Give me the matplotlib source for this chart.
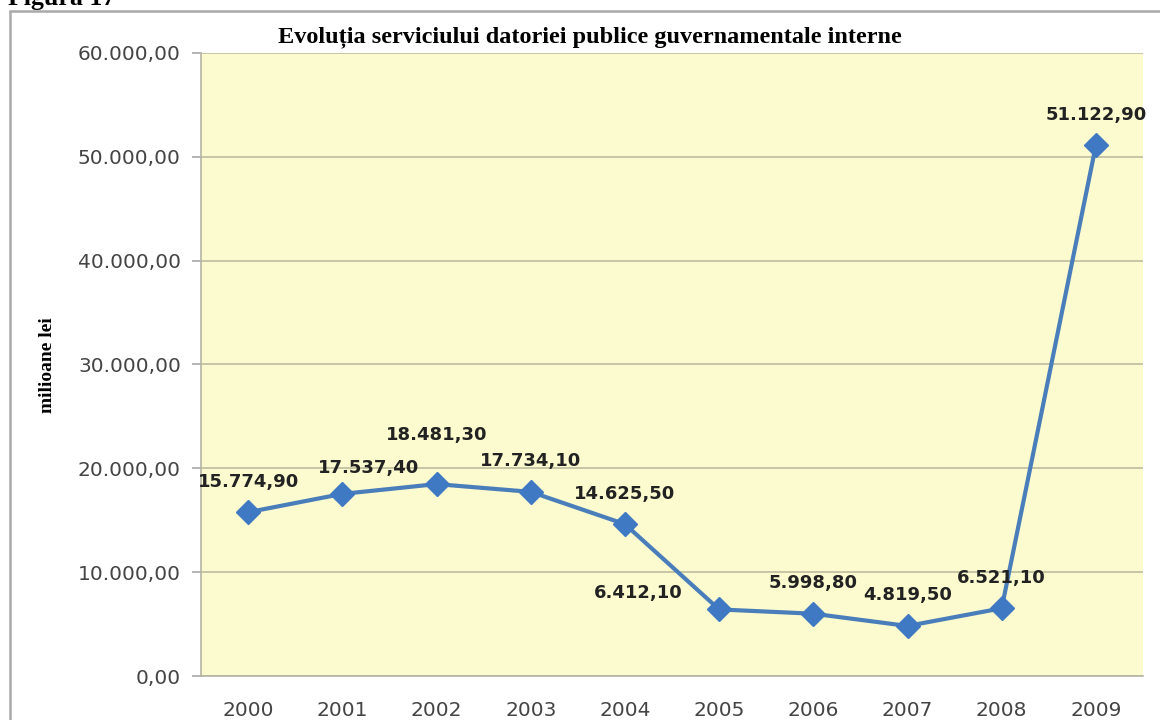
import matplotlib
matplotlib.use("Agg")
import matplotlib.pyplot as plt
from matplotlib.patches import Rectangle

# Serviciul datoriei publice guvernamentale interne (milioane lei)
years = ["2000", "2001", "2002", "2003", "2004", "2005", "2006", "2007", "2008", "2009"]
values = [15774.90, 17537.40, 18481.30, 17734.10, 14625.50,
          6412.10, 5998.80, 4819.50, 6521.10, 51122.90]
y_ticks = [0, 10000, 20000, 30000, 40000, 50000, 60000]

# label offsets (points) relative to each marker
label_offsets = {1: (19, 19), 2: (0, 35), 5: (-58, 12)}
default_offset = (0, 22)

W, H = 1160, 720
fig = plt.figure(figsize=(W / 100, H / 100), dpi=100)
fig.patch.set_facecolor("white")


def fmt_ro(v):
    s = f"{v:,.2f}"
    return s.replace(",", "X").replace(".", ",").replace("X", ".")


# outer chart frame
frame = Rectangle((10 / W, -0.1), 1.2, 1 - 11 / H + 0.1, transform=fig.transFigure,
                  fill=False, edgecolor="#a9a9a9", linewidth=1.8)
fig.patches.append(frame)

fig.text(8 / W, 1 - 5 / H, "Figura 17", family="Liberation Serif", weight="bold",
         fontsize=18.6, va="baseline", ha="left", color="black")

left, right, top, bottom = 201, 1143, 53, 676
ax = fig.add_axes([left / W, 1 - bottom / H, (right - left) / W, (bottom - top) / H])
ax.set_facecolor("#fbfbcf")

x = list(range(len(years)))
ax.plot(x, values, color="#4a7ebb", linewidth=3.0, marker="D", markersize=12.5,
        markerfacecolor="#3f79c4", markeredgecolor="#3f79c4", zorder=3)

for i, v in enumerate(values):
    dx, dy = label_offsets.get(i, default_offset)
    ax.annotate(fmt_ro(v), (i, v), xytext=(dx, dy), textcoords="offset points",
                ha="center", va="center", fontsize=13, weight="bold",
                family="DejaVu Sans", color="#222222", zorder=4)

ax.set_xlim(-0.5, len(years) - 0.5)
ax.set_ylim(0, 60000)
ax.set_xticks(x)
ax.set_xticklabels(years)
ax.set_yticks(y_ticks)
ax.set_yticklabels([fmt_ro(t) for t in y_ticks])

ax.grid(axis="y", color="#c6c6a6", linewidth=1.4, zorder=0)
ax.set_axisbelow(True)

for side in ("top", "right"):
    ax.spines[side].set_visible(False)
for side in ("left", "bottom"):
    ax.spines[side].set_color("#b4b4a4")
    ax.spines[side].set_linewidth(1.2)

ax.tick_params(axis="y", length=6.5, width=1.2, color="#a8a8a8", pad=8,
               labelsize=14.5, labelcolor="#444444")
ax.tick_params(axis="x", length=0, pad=18, labelsize=14.5, labelcolor="#444444")
for lab in ax.get_xticklabels() + ax.get_yticklabels():
    lab.set_family("DejaVu Sans")

fig.text(590 / W, 1 - 37 / H, "Evoluția serviciului datoriei publice guvernamentale interne",
         family="Liberation Serif", weight="bold", fontsize=17.5, ha="center", va="center",
         color="black")

fig.text(48 / W, 1 - 365 / H, "milioane lei", family="Liberation Serif", weight="bold",
         fontsize=14, rotation=90, ha="center", va="center", color="black")

fig.savefig("out.png", dpi=100)
